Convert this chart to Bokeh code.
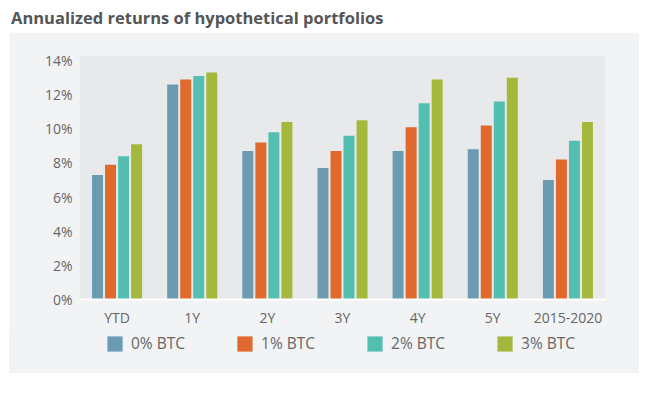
from bokeh.plotting import figure
from bokeh.models import (ColumnDataSource, Legend, LegendItem, FixedTicker,
                          PrintfTickFormatter, Div, FactorRange, Range1d)
from bokeh.layouts import column
from bokeh.transform import dodge
from bokeh.embed import file_html
from bokeh.resources import INLINE

# ---- data ----
categories = ["YTD", "1Y", "2Y", "3Y", "4Y", "5Y", "2015-2020"]
btc0 = [7.3, 12.6, 8.7, 7.7, 8.7, 8.8, 7.0]
btc1 = [7.9, 12.9, 9.2, 8.7, 10.1, 10.2, 8.2]
btc2 = [8.4, 13.1, 9.8, 9.6, 11.5, 11.6, 9.3]
btc3 = [9.1, 13.3, 10.4, 10.5, 12.9, 13.0, 10.4]
series_labels = ["0% BTC", "1% BTC", "2% BTC", "3% BTC"]
y_ticks = [0, 2, 4, 6, 8, 10, 12, 14]

colors = ["#6a9bb0", "#e0692d", "#52bfb0", "#a4b83b"]
panel_bg = "#f2f3f5"

source = ColumnDataSource(dict(cat=categories, b0=btc0, b1=btc1, b2=btc2, b3=btc3))

title = Div(text="Annualized returns of hypothetical portfolios",
            width=654, height=24, margin=(8, 0, 0, 0),
            styles={"font-family": "Open Sans", "font-weight": "bold",
                    "font-size": "16.5px", "color": "#555555",
                    "padding-left": "11px", "line-height": "20px"})

p = figure(x_range=FactorRange(*categories, range_padding=0),
           y_range=Range1d(0, 14.3),
           width=630, height=300, output_backend="svg", toolbar_location=None,
           min_border_left=70, min_border_right=34, min_border_top=23,
           min_border_bottom=33, margin=(0, 0, 0, 9))
p.background_fill_color = "#e8e9eb"
p.border_fill_color = panel_bg
p.outline_line_color = None
p.xgrid.grid_line_color = None
p.ygrid.grid_line_color = None

offsets = [-0.26, -0.0867, 0.0867, 0.26]
keys = ["b0", "b1", "b2", "b3"]
for k, off, col in zip(keys, offsets, colors):
    p.vbar(x=dodge("cat", off, range=p.x_range), top=k, width=0.146,
           source=source, fill_color=col, line_color=None)

p.yaxis.ticker = FixedTicker(ticks=y_ticks)
p.yaxis.formatter = PrintfTickFormatter(format="%d%%")
for ax in (p.xaxis, p.yaxis):
    ax.major_tick_line_color = None
    ax.minor_tick_line_color = None
    ax.major_tick_out = 0
    ax.major_tick_in = 0
    ax.major_label_text_font = "Open Sans"
    ax.major_label_text_font_size = "14px"
    ax.major_label_text_color = "#666666"
p.yaxis.axis_line_color = None
p.yaxis.major_label_standoff = 7
p.xaxis.axis_line_color = "white"
p.xaxis.axis_line_width = 2
p.xaxis.major_label_standoff = 8

# ---- legend strip (proxy glyphs lie outside the strip's visible range) ----
lg = figure(width=630, height=41, output_backend="svg", toolbar_location=None,
            x_range=Range1d(0, 1), y_range=Range1d(0, 1),
            x_axis_location=None, y_axis_location=None,
            min_border=0, min_border_left=0, min_border_right=0,
            min_border_top=0, min_border_bottom=0, margin=(0, 0, 0, 9),
            styles={"background-color": panel_bg})
lg.background_fill_alpha = 0
lg.border_fill_alpha = 0
lg.outline_line_color = None
lg.xgrid.grid_line_color = None
lg.ygrid.grid_line_color = None
items = []
for col, lab in zip(colors, series_labels):
    r = lg.vbar(x=[5], top=[5], bottom=[4], width=0.1, fill_color=col, line_color=None)
    items.append(LegendItem(label=lab, renderers=[r]))

legend = Legend(items=items, orientation="horizontal", location=(26, 19),
                glyph_width=19, glyph_height=19, label_standoff=7, spacing=50,
                padding=0, margin=0, background_fill_alpha=0, border_line_color=None,
                label_text_font="Open Sans", label_text_font_size="15.5px",
                label_text_color="#666666")
lg.add_layout(legend, "center")

layout = column(title, p, lg, spacing=0)
open("out.html", "w").write(file_html(layout, INLINE))
